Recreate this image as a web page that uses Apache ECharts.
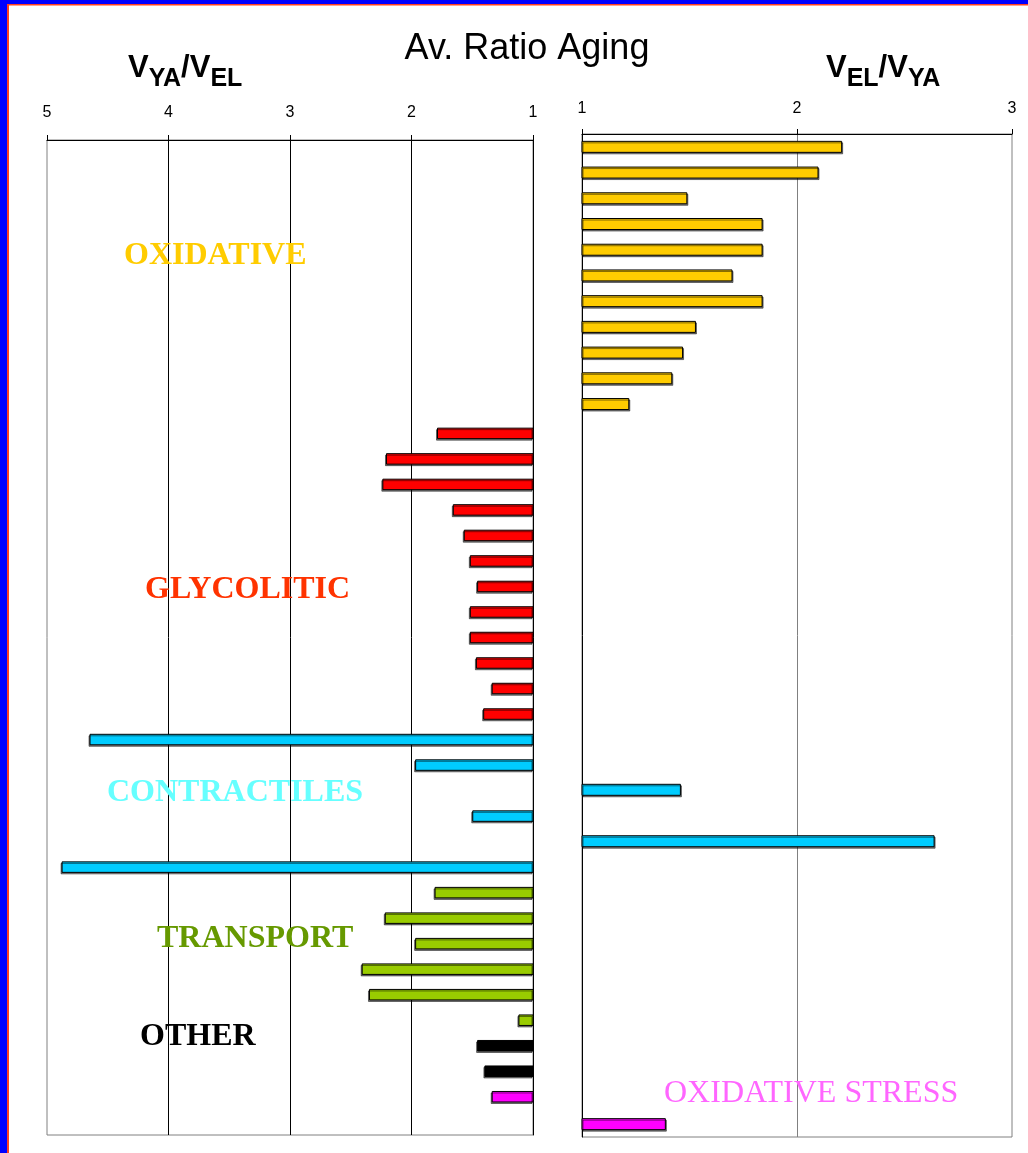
<!DOCTYPE html>
<html>
<head>
<meta charset="utf-8">
<title>Av. Ratio Aging</title>
<script src="https://cdn.jsdelivr.net/npm/echarts@6/dist/echarts.min.js"></script>
<style>
  html, body { margin: 0; padding: 0; background: #ffffff; }
  #chart { width: 1028px; height: 1153px; }
</style>
</head>
<body>
<div id="chart"></div>
<script>
// Average expression ratios per protein, top to bottom inside each functional group.
// Left panel: V_YA / V_EL, right panel: V_EL / V_YA (null = no bar on that side).
const oxidativeLeft   = [null, null, null, null, null, null, null, null, null, null, null];
const oxidativeRight  = [2.21, 2.10, 1.49, 1.84, 1.84, 1.70, 1.84, 1.53, 1.47, 1.42, 1.22];
const glycoliticLeft  = [1.79, 2.21, 2.24, 1.66, 1.57, 1.52, 1.46, 1.52, 1.52, 1.47, 1.34, 1.41];
const glycoliticRight = [null, null, null, null, null, null, null, null, null, null, null, null];
const contractileLeft  = [4.65, 1.97, null, 1.50, null, 4.88];
const contractileRight = [null, null, 1.46, null, 2.64, null];
const transportLeft  = [1.81, 2.22, 1.97, 2.41, 2.35, 1.12];
const transportRight = [null, null, null, null, null, null];
const otherLeft  = [1.46, 1.40];
const otherRight = [null, null];
const oxStressLeft  = [1.34, null];
const oxStressRight = [null, 1.39];

// Axis ranges and tick step
const leftRange  = [1, 5];
const rightRange = [1, 3];
const tickStep = 1;

const groupNames = ['OXIDATIVE', 'GLYCOLITIC', 'CONTRACTILES', 'TRANSPORT', 'OTHER', 'OXIDATIVE STRESS'];
const groupValues = [
  [oxidativeLeft, oxidativeRight],
  [glycoliticLeft, glycoliticRight],
  [contractileLeft, contractileRight],
  [transportLeft, transportRight],
  [otherLeft, otherRight],
  [oxStressLeft, oxStressRight]
];

// Styling
const barColors  = ['#FFCC00', '#FF0000', '#00CCFF', '#99CC00', '#000000', '#FF00FF'];
const textColors = ['#FFCC00', '#FF3300', '#66FFFF', '#669900', '#000000', '#FF66FF'];

// One category row per protein; each side gets its own bar list
const categories = [];
const leftData = [];
const rightData = [];
groupValues.forEach(function (pair, g) {
  const n = Math.max(pair[0].length, pair[1].length);
  for (let i = 0; i < n; i++) {
    categories.push(groupNames[g] + ' ' + (i + 1));
    const l = pair[0][i], r = pair[1][i];
    leftData.push(l == null ? null : { value: l, itemStyle: { color: barColors[g] } });
    rightData.push(r == null ? null : { value: r, itemStyle: { color: barColors[g] } });
  }
});

const chart = echarts.init(document.getElementById('chart'), null, { renderer: 'canvas' });

function valueAxis(gridIndex, range, inverse, gridColor, labelMargin) {
  return {
    gridIndex: gridIndex,
    type: 'value',
    position: 'top',
    inverse: inverse,
    min: range[0],
    max: range[1],
    interval: tickStep,
    axisLine: { show: true, onZero: false, lineStyle: { color: '#000000', width: 1 } },
    axisTick: { show: true, length: 5, lineStyle: { color: '#000000', width: 1 } },
    axisLabel: { margin: labelMargin, fontSize: 16, fontFamily: 'Liberation Sans', color: '#000000' },
    splitLine: { show: true, showMinLine: false, showMaxLine: false, lineStyle: { color: gridColor, width: 1 } }
  };
}

function categoryAxis(gridIndex, position) {
  return {
    gridIndex: gridIndex,
    type: 'category',
    data: categories,
    inverse: true,
    position: position,
    axisLine: { show: true, onZero: false, lineStyle: { color: '#000000', width: 1 } },
    axisTick: { show: false },
    axisLabel: { show: false },
    splitLine: { show: false }
  };
}

function barSeries(idx, data, width, shadowX) {
  return {
    type: 'bar',
    xAxisIndex: idx,
    yAxisIndex: idx,
    data: data,
    barWidth: width,
    clip: true,
    itemStyle: {
      borderColor: '#000000',
      borderWidth: 1,
      shadowColor: 'rgba(0,0,0,0.5)',
      shadowBlur: 0,
      shadowOffsetX: shadowX,
      shadowOffsetY: 1.5
    },
    emphasis: { disabled: true }
  };
}

// Axis caption with large V and subscripts
function ratioCaption(x, y, top, bottom) {
  return {
    type: 'text',
    x: x,
    y: y,
    z: 10,
    style: {
      text: '{v|V}{s|' + top + '}{v|/V}{s|' + bottom + '}',
      align: 'left',
      verticalAlign: 'top',
      rich: {
        v: { fontSize: 31, fontWeight: 'bold', fontFamily: 'Liberation Sans', fill: '#000000' },
        s: { fontSize: 25, fontWeight: 'bold', fontFamily: 'Liberation Sans Narrow, Liberation Sans', fill: '#000000', padding: [22, 0, 0, 0] }
      }
    }
  };
}

function groupLabel(g, x, y, weight) {
  return {
    type: 'text',
    x: x,
    y: y,
    z: 1,
    style: {
      text: groupNames[g],
      fontSize: 32,
      fontWeight: weight,
      fontFamily: 'Liberation Serif',
      fill: textColors[g],
      align: 'left',
      verticalAlign: 'middle'
    }
  };
}

const option = {
  animation: false,
  backgroundColor: '#ffffff',
  grid: [
    { left: 47, top: 140, width: 486, height: 995, show: true, borderColor: '#808080', borderWidth: 1, backgroundColor: 'transparent' },
    { left: 582, top: 134, width: 430, height: 1003, show: true, borderColor: '#808080', borderWidth: 1, backgroundColor: 'transparent' }
  ],
  xAxis: [
    valueAxis(0, leftRange, true, '#000000', 19),
    valueAxis(1, rightRange, false, '#808080', 17)
  ],
  yAxis: [
    categoryAxis(0, 'right'),
    categoryAxis(1, 'left')
  ],
  series: [
    barSeries(0, leftData, 11.5, -1),
    barSeries(1, rightData, 12, 1)
  ],
  graphic: [
    // frame bands along the top and left edges
    { type: 'rect', shape: { x: 0, y: 0, width: 1028, height: 4 }, style: { fill: '#0000FF' }, z: 20 },
    { type: 'rect', shape: { x: 7, y: 4, width: 1021, height: 1.5 }, style: { fill: '#FF4020' }, z: 20 },
    { type: 'rect', shape: { x: 0, y: 0, width: 7, height: 1153 }, style: { fill: '#0000FF' }, z: 20 },
    { type: 'rect', shape: { x: 7, y: 4, width: 2, height: 1149 }, style: { fill: '#FF4020' }, z: 20 },
    {
      type: 'text', x: 527, y: 49, z: 10,
      style: { text: 'Av. Ratio Aging', fontSize: 36, fontFamily: 'Liberation Sans', fill: '#000000', align: 'center', verticalAlign: 'middle' }
    },
    ratioCaption(128, 45, 'YA', 'EL'),
    ratioCaption(826, 45, 'EL', 'YA'),
    groupLabel(0, 124, 256, 'bold'),
    groupLabel(1, 145, 590, 'bold'),
    groupLabel(2, 107, 793, 'bold'),
    groupLabel(3, 157, 939, 'bold'),
    groupLabel(4, 140, 1037, 'bold'),
    groupLabel(5, 664, 1094, 'normal')
  ]
};

chart.setOption(option);
</script>
</body>
</html>
